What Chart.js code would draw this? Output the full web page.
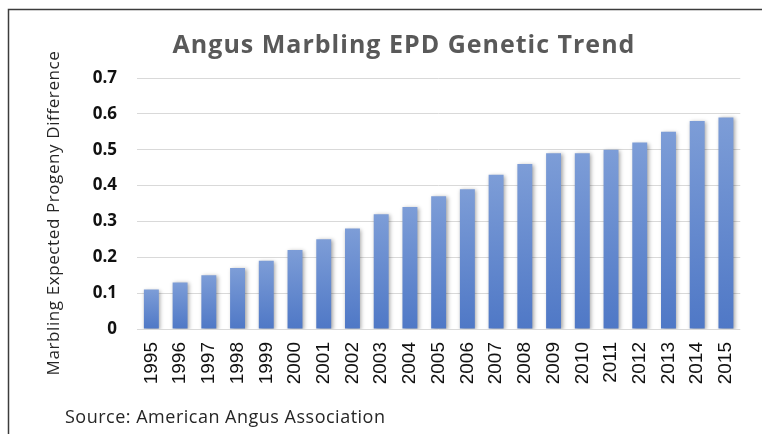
<!DOCTYPE html>
<html>
<head>
<meta charset="utf-8">
<title>Angus Marbling EPD Genetic Trend</title>
<script src="https://cdn.jsdelivr.net/npm/chart.js@4.4.1/dist/chart.umd.min.js"></script>
<style>
  html, body { margin: 0; padding: 0; background: #fff; }
  #wrap { width: 762px; height: 434px; }
</style>
</head>
<body>
<div id="wrap"><canvas id="trendChart" width="762" height="434"></canvas></div>
<script>
// data
const years = ['1995', '1996', '1997', '1998', '1999', '2000', '2001', '2002', '2003', '2004', '2005',
               '2006', '2007', '2008', '2009', '2010', '2011', '2012', '2013', '2014', '2015'];
const marblingEpd = [0.11, 0.13, 0.15, 0.17, 0.19, 0.22, 0.25, 0.28, 0.32, 0.34, 0.37,
                     0.39, 0.43, 0.46, 0.49, 0.49, 0.50, 0.52, 0.55, 0.58, 0.59];
const yTicks = [0, 0.1, 0.2, 0.3, 0.4, 0.5, 0.6, 0.7];

const chartTitle = 'Angus Marbling EPD Genetic Trend';
const yTitle = 'Marbling Expected Progeny Difference';
const sourceNote = 'Source: American Angus Association';

// each bar gets its own light-to-dark gradient, like the Excel original
function barGradient(ctx) {
  const chart = ctx.chart;
  if (!chart.chartArea || ctx.dataIndex === undefined) return '#5b84cc';
  const y = chart.scales.y;
  const top = y.getPixelForValue(marblingEpd[ctx.dataIndex]);
  const base = y.getPixelForValue(0);
  const g = chart.ctx.createLinearGradient(0, top, 0, base);
  g.addColorStop(0, '#7d9dd7');
  g.addColorStop(1, '#4f78c6');
  return g;
}

// frame, title, axis title and source line
const decorations = {
  id: 'decorations',
  beforeDraw(chart) {
    const c = chart.ctx;
    c.save();
    c.fillStyle = '#fff';
    c.fillRect(0, 0, chart.width, chart.height);
    c.strokeStyle = '#3c3c3c';
    c.lineWidth = 1.5;
    c.beginPath();
    c.moveTo(8.5, chart.height);
    c.lineTo(8.5, 9.5);
    c.lineTo(chart.width, 9.5);
    c.stroke();
    c.restore();
  },
  afterDraw(chart) {
    const c = chart.ctx;
    c.save();
    c.fillStyle = '#595959';
    c.font = 'bold 25px "Open Sans"';
    c.letterSpacing = '1px';
    c.textAlign = 'center';
    c.textBaseline = 'alphabetic';
    c.fillText(chartTitle, 404, 53);

    c.fillStyle = '#262626';
    c.font = '18px "Open Sans"';
    c.letterSpacing = '0.5px';
    c.textAlign = 'left';
    c.fillText(sourceNote, 65, 423);

    c.translate(54, 213);
    c.rotate(-Math.PI / 2);
    c.font = '17px "Open Sans"';
    c.letterSpacing = '0.6px';
    c.textAlign = 'center';
    c.textBaseline = 'middle';
    c.fillText(yTitle, 0, 0);
    c.restore();
  }
};

const barShadow = {
  id: 'barShadow',
  beforeDatasetsDraw(chart) {
    const c = chart.ctx;
    c.save();
    c.shadowColor = 'rgba(0,0,0,0.35)';
    c.shadowBlur = 4;
    c.shadowOffsetX = 1.5;
    c.shadowOffsetY = 1;
  },
  afterDatasetsDraw(chart) {
    chart.ctx.restore();
  }
};

new Chart(document.getElementById('trendChart'), {
  type: 'bar',
  data: {
    labels: years,
    datasets: [{
      label: 'Marbling EPD',
      data: marblingEpd,
      backgroundColor: barGradient,
      borderWidth: 0,
      barPercentage: 0.52,
      categoryPercentage: 1
    }]
  },
  options: {
    responsive: false,
    animation: false,
    layout: { padding: { left: 0, top: 78, right: 11, bottom: 45 } },
    plugins: {
      legend: { display: false },
      tooltip: { enabled: false }
    },
    scales: {
      x: {
        grid: { display: false, drawTicks: false },
        border: { display: false },
        ticks: {
          autoSkip: false,
          minRotation: 90,
          maxRotation: 90,
          padding: 13,
          color: '#111',
          font: { family: '"Liberation Sans", Arial, sans-serif', size: 19 }
        },
        afterFit(scale) { scale.height = 60; }
      },
      y: {
        min: 0,
        max: 0.7,
        grid: { color: '#d9d9d9', lineWidth: 1, drawTicks: false },
        border: { display: false },
        ticks: {
          padding: 20,
          color: '#111',
          font: { family: '"Open Sans"', size: 17, weight: 'bold' },
          callback: v => (v === 0 ? '0' : v.toFixed(1))
        },
        afterBuildTicks(scale) { scale.ticks = yTicks.map(v => ({ value: v })); },
        afterFit(scale) { scale.width = 137; }
      }
    }
  },
  plugins: [decorations, barShadow]
});
</script>
</body>
</html>
